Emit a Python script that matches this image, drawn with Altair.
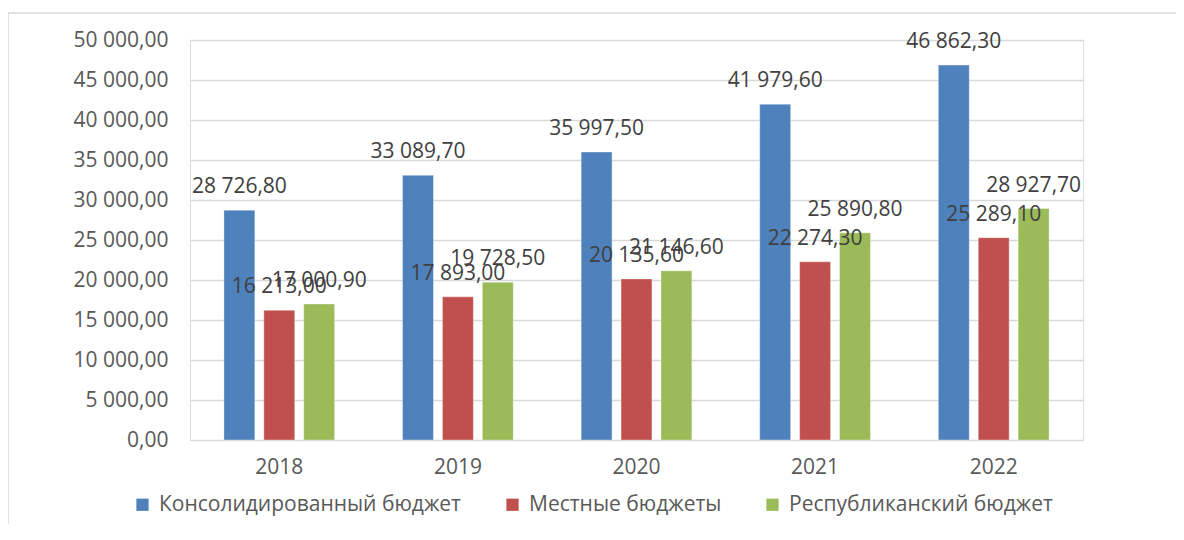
import altair as alt
import pandas as pd

years = ["2018", "2019", "2020", "2021", "2022"]
series = ["Консолидированный бюджет", "Местные бюджеты", "Республиканский бюджет"]
consolidated = [28726.80, 33089.70, 35997.50, 41979.60, 46862.30]
local = [16213.00, 17893.00, 20135.60, 22274.30, 25289.10]
republican = [17000.90, 19728.50, 21146.60, 25890.80, 28927.70]
colors = ["#4F81BD", "#C0504D", "#9BBB59"]
y_ticks = [0, 5000, 10000, 15000, 20000, 25000, 30000, 35000, 40000, 45000, 50000]

rows = []
for vals, s in zip([consolidated, local, republican], series):
    for y, v in zip(years, vals):
        rows.append({"year": y, "series": s, "value": v})
df = pd.DataFrame(rows)

FONT = "Open Sans"
FS = 21
fmt_expr = "replace(replace(format(%s, ',.2f'), ',', ' '), '.', ',')"

base = alt.Chart(df).encode(
    x=alt.X("year:N", title=None, sort=years,
            scale=alt.Scale(paddingInner=0.38, paddingOuter=0.19),
            axis=alt.Axis(labelAngle=0, labelFontSize=FS, labelFont=FONT, labelColor="#595959",
                          labelPadding=16, ticks=False, domain=False, grid=False)),
    xOffset=alt.XOffset("series:N", sort=series,
                        scale=alt.Scale(paddingInner=0.225, paddingOuter=0)),
    y=alt.Y("value:Q", title=None, scale=alt.Scale(domain=[0, 50000]),
            axis=alt.Axis(values=y_ticks, labelExpr=fmt_expr % "datum.value",
                          labelOverlap=False, tickCount=20,
                          labelFontSize=FS, labelFont=FONT, labelColor="#595959", labelPadding=22,
                          ticks=False, domain=False, gridColor="#D9D9D9", gridWidth=1.3)),
)

bars = base.mark_bar(stroke="white", strokeWidth=0.6, strokeOpacity=0.6).encode(
    color=alt.Color("series:N", sort=series,
                    scale=alt.Scale(domain=series, range=colors),
                    legend=alt.Legend(title=None, orient="none", direction="horizontal",
                                      legendX=-58, legendY=454,
                                      symbolType="square", symbolSize=150, symbolStrokeWidth=0,
                                      labelFontSize=FS, labelFont=FONT, labelColor="#595959",
                                      labelLimit=0,
                                      columnPadding=40, symbolOffset=0, labelOffset=6)),
)

labels = base.transform_calculate(
    label=fmt_expr % "datum.value"
).mark_text(baseline="alphabetic", dy=-17, fontSize=FS, font=FONT, color="#404040").encode(
    text="label:N",
)

frame = alt.Chart(pd.DataFrame({"a": [0]})).mark_rule(color="#D9D9D9", strokeWidth=1.5).encode(
    x=alt.value(-182), x2=alt.value(-182), y=alt.value(-27), y2=alt.value(540))
frame_top = alt.Chart(pd.DataFrame({"a": [0]})).mark_rule(color="#D9D9D9", strokeWidth=1.5).encode(
    x=alt.value(-182), x2=alt.value(1100), y=alt.value(-27), y2=alt.value(-27))

chart = alt.layer(frame, frame_top, bars, labels).properties(
    width=893, height=400,
    autosize=alt.AutoSizeParams(type="none"),
    padding={"left": 182, "top": 32, "right": 93, "bottom": 84},
).configure_view(stroke=None).configure(background="white")

chart.save("out.html", embed_options={"renderer": "svg", "actions": False})
